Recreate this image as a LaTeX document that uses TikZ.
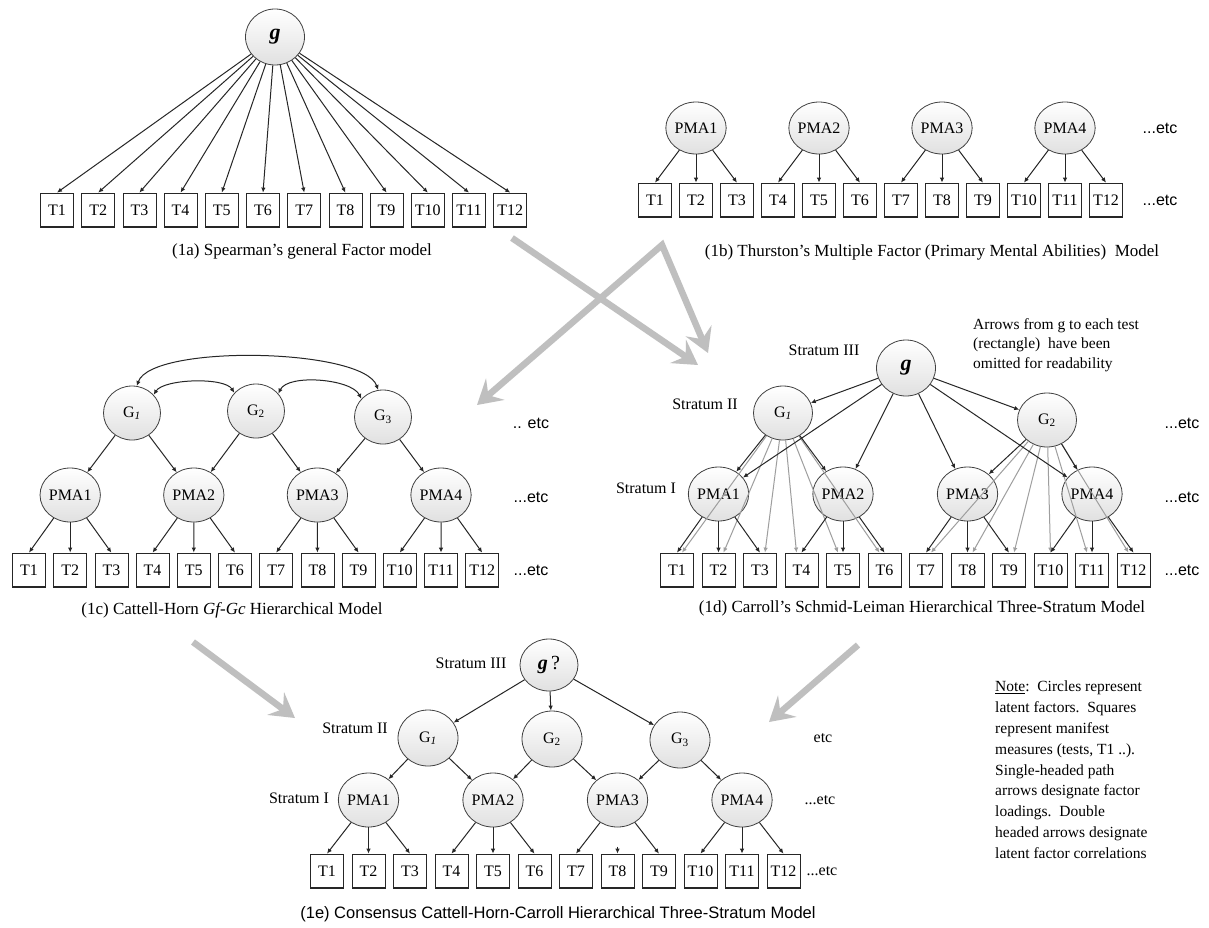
\documentclass[tikz,border=0pt]{standalone}
\usepackage{fontspec}
\setmainfont{Liberation Serif}
\newfontfamily\sansf{Liberation Sans}
\usetikzlibrary{arrows.meta,shapes.geometric,calc}
\begin{document}
\begin{tikzpicture}[x=1pt,y=-1pt,
  lat/.style={ellipse, draw=black!75, line width=0.8pt, top color=white, middle color=white, bottom color=black!12, minimum width=57pt, minimum height=54pt, inner sep=0pt, font=\fontsize{16}{18}\selectfont},
  gnode/.style={lat, minimum width=59pt, minimum height=56pt, font=\fontsize{22}{24}\selectfont\bfseries\itshape},
  tst/.style={rectangle, draw=black!85, line width=0.8pt, fill=white, minimum width=33pt, minimum height=34pt, inner sep=0pt, font=\fontsize{16}{18}\selectfont,
    path picture={\draw[line width=3pt] (path picture bounding box.south west) -- (path picture bounding box.south east);}},
  arr/.style={draw=black!85, line width=1pt, -{Latex[length=5pt,width=4.5pt]}},
  garr/.style={draw=black!38, line width=1pt, -{Latex[length=5pt,width=4.5pt]}},
  darr/.style={draw=black!85, line width=1pt, {Latex[length=5pt,width=4.5pt]}-{Latex[length=5pt,width=4.5pt]}},
  bigl/.style={draw=black!25, line width=6.5pt, line join=miter},
  bigtip/.tip={Stealth[length=24pt,width=28pt,inset=9pt]},
  lbl/.style={font=\fontsize{16}{18}\selectfont, inner sep=0pt},
  etcs/.style={font=\sansf\fontsize{16}{18}\selectfont, inner sep=0pt},
  etcr/.style={font=\fontsize{16}{18}\selectfont, inner sep=0pt},
  captxt/.style={font=\fontsize{17}{19}\selectfont, inner sep=0pt},
]
\fill[white] (0,0) rectangle (1209,927);
\path[use as bounding box] (0,0) rectangle (1209,927);

% ---------------- big grey arrows ----------------
\coordinate (A1s) at (512,238);
\coordinate (A1e) at (698,365);
\coordinate (A2e) at (477,405);
\coordinate (Apex) at (662,245);
\coordinate (A3e) at (708,353);
\coordinate (A4s) at (193,642);
\coordinate (A4e) at (295,718);
\coordinate (A5s) at (858,645);
\coordinate (A5e) at (769,722);
\draw[bigl, -bigtip] (A1s) -- (A1e);
\draw[bigl, bigtip-bigtip] (A2e) -- (Apex) -- (A3e);
\draw[bigl, -bigtip] (A4s) -- (A4e);
\draw[bigl, -bigtip] (A5s) -- (A5e);

% ---------------- (1a) ----------------
\node[gnode] (ag) at (275,37) {g};
\foreach \i in {1,...,12} \node[tst] (a\i) at ({57+41.2*(\i-1)},210) {T\i};
\foreach \i in {1,...,12} \draw[arr] (ag) -- (a\i.north);
\node[captxt] (acap) at (302,251) {(1a) Spearman's general Factor model};

% ---------------- (1b) ----------------
\foreach \i in {1,...,12} \node[tst] (b\i) at ({655+41*(\i-1)},200) {T\i};
\foreach \k/\x in {1/696,2/819,3/942,4/1065} \node[lat, minimum width=54pt, minimum height=52pt] (bp\k) at (\x,128) {PMA\k};
\foreach \k in {1,...,4} {\foreach \j in {1,2,3} {\pgfmathtruncatemacro\tn{3*(\k-1)+\j} \draw[arr] (bp\k) -- (b\tn.north);}}
\node[etcs] (betc1) at (1160,128) {...etc};
\node[etcs] (betc2) at (1160,200) {...etc};
\node[captxt] (bcap) at (932,252) {(1b) Thurston's Multiple Factor (Primary Mental Abilities)\ \ Model};

% ---------------- (1c) ----------------
\foreach \i in {1,...,12} \node[tst] (c\i) at ({29+41.2*(\i-1)},570) {T\i};
\foreach \k/\x in {1/70.2,2/193.8,3/317.4,4/441} \node[lat] (cp\k) at (\x,495) {PMA\k};
\node[lat] (cg1) at (132,413) {G\textsubscript{\textit{1}}};
\node[lat] (cg2) at (256,411) {G\textsubscript{2}};
\node[lat] (cg3) at (383,417) {G\textsubscript{3}};
\foreach \a/\b in {cg1/cp1,cg1/cp2,cg2/cp2,cg2/cp3,cg3/cp3,cg3/cp4} \draw[arr] (\a) -- (\b);
\foreach \k in {1,...,4} {\foreach \j in {1,2,3} {\pgfmathtruncatemacro\tn{3*(\k-1)+\j} \draw[arr] (cp\k) -- (c\tn.north);}}
\draw[darr] (cg1.40) .. controls +(10,-16) and +(-10,-16) .. (cg2.140);
\draw[darr] (cg2.38) .. controls +(10,-20) and +(-10,-20) .. (cg3.140);
\draw[darr] (cg1.80) .. controls +(15,-42) and +(-15,-42) .. (cg3.100);
\node[etcs] (cetc1) at (531,423) {.. etc};
\node[etcs] (cetc2) at (531,497) {...etc};
\node[etcs] (cetc3) at (531,570) {...etc};
\node[captxt] (ccap) at (232,610) {(1c) Cattell-Horn \textit{Gf-Gc} Hierarchical Model};

% ---------------- (1d) ----------------
\foreach \i in {1,...,12} \node[tst] (d\i) at ({677+41.5*(\i-1)},570) {T\i};
\foreach \k/\x in {1/718.5,2/843,3/967.5,4/1092} \node[lat] (dp\k) at (\x,494) {PMA\k};
\node[lat, minimum width=59pt] (dG1) at (783,413) {G\textsubscript{\textit{1}}};
\node[lat, minimum width=59pt] (dG2) at (1047,420) {G\textsubscript{2}};
\node[gnode] (dg) at (906,368) {g};
\foreach \tn/\s in {1/5,2/5,3/5,4/-5,5/-5,6/-5} \draw[garr] (dG1) -- ([xshift=\s pt]d\tn.north);
\foreach \tn/\s in {7/5,8/5,9/5,10/0,11/-5,12/-5} \draw[garr] (dG2) -- ([xshift=\s pt]d\tn.north);
\foreach \a/\b in {dg/dG1,dg/dG2,dg/dp1,dg/dp2,dg/dp3,dg/dp4,dG1/dp1,dG1/dp2,dG2/dp3,dG2/dp4} \draw[arr] (\a) -- (\b);
\foreach \k in {1,...,4} {\foreach \j in {1,2,3} {\pgfmathtruncatemacro\tn{3*(\k-1)+\j} \draw[arr] (dp\k) -- (d\tn.north);}}
\node[lbl] (ds3) at (824,350) {Stratum III};
\node[lbl] (ds2) at (705,404) {Stratum II};
\node[lbl] (ds1) at (646,488) {Stratum I};
\node[lbl, anchor=north west, align=left, font=\fontsize{15.5}{19.5}\selectfont] (dnote) at (973,318) {Arrows from g to each test\\(rectangle)\ \ have been\\omitted for readability};
\node[etcs] (detc1) at (1182,423) {...etc};
\node[etcs] (detc2) at (1182,497) {...etc};
\node[etcs] (detc3) at (1182,570) {...etc};
\node[captxt] (dcap) at (922,608) {(1d) Carroll's Schmid-Leiman Hierarchical Three-Stratum Model};

% ---------------- (1e) ----------------
\foreach \i in {1,...,12} \node[tst] (e\i) at ({327+41.5*(\i-1)},871) {T\i};
\foreach \k/\x in {1/368.5,2/493,3/617.5,4/742} \node[lat] (ep\k) at (\x,800) {PMA\k};
\node[lat, minimum width=60pt, minimum height=56pt] (eG1) at (428,738) {G\textsubscript{\textit{1}}};
\node[lat, minimum width=60pt, minimum height=56pt] (eG2) at (552,739) {G\textsubscript{2}};
\node[lat, minimum width=60pt, minimum height=56pt] (eG3) at (680,740) {G\textsubscript{3}};
\node[lat, minimum width=58pt, minimum height=52pt, font=\fontsize{20}{22}\selectfont] (eg) at (549,665) {{\bfseries\itshape g}\,?};
\foreach \a/\b in {eg/eG1,eg/eG2,eg/eG3,eG1/ep1,eG1/ep2,eG2/ep2,eG2/ep3,eG3/ep3,eG3/ep4} \draw[arr] (\a) -- (\b);
\foreach \tn in {1,2,3} \draw[arr] (ep1) -- (e\tn.north);
\foreach \tn in {4,5,6} \draw[arr] (ep2) -- (e\tn.north);
\foreach \tn in {7,9} \draw[arr] (ep3) -- (e\tn.north);
\foreach \tn in {10,11,12} \draw[arr] (ep4) -- (e\tn.north);
\coordinate (e8s) at ($(e8.north)+(0,-7)$);
\draw[arr] (e8s) -- (e8.north);
\node[lbl] (es3) at (471,663) {Stratum III};
\node[lbl] (es2) at (355,728) {Stratum II};
\node[lbl] (es1) at (299,798) {Stratum I};
\node[etcr] (eetc1) at (823,738) {etc};
\node[etcr] (eetc2) at (820,800) {...etc};
\node[etcr] (eetc3) at (822,871) {...etc};
\node[captxt, font=\sansf\fontsize{16.5}{18}\selectfont] (ecap) at (558,914) {(1e) Consensus Cattell-Horn-Carroll Hierarchical Three-Stratum Model};

% ---------------- note ----------------
\node[lbl, anchor=north west, align=left, font=\fontsize{15.5}{20.8}\selectfont] (note) at (995,681) {\underline{Note}:\ \ Circles represent\\latent factors.\ \ Squares\\represent manifest\\measures (tests, T1 ..).\\Single-headed path\\arrows designate factor\\loadings.\ \ Double\\headed arrows designate\\latent factor correlations};
\end{tikzpicture}
\end{document}
